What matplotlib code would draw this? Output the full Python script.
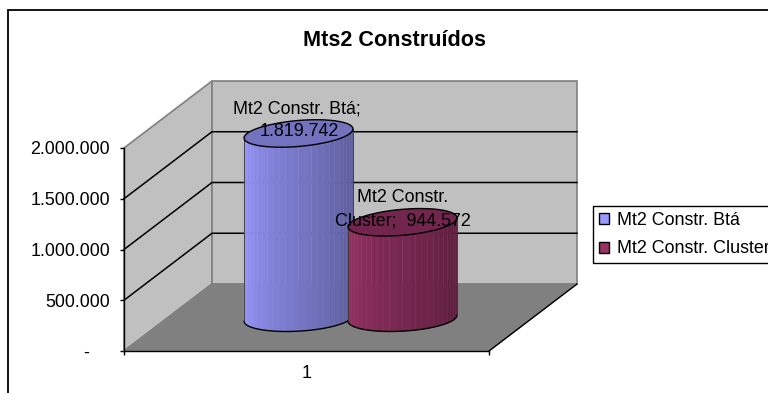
import numpy as np
import matplotlib
matplotlib.use("Agg")
import matplotlib.pyplot as plt
from matplotlib.patches import Polygon, Patch, Rectangle
from matplotlib.ticker import FuncFormatter

plt.rcParams['font.family'] = ['Liberation Sans', 'DejaVu Sans']

title = "Mts2 Construídos"
series_names = ["Mt2 Constr. Btá", "Mt2 Constr. Cluster"]
values = [1819742, 944572]
category = "1"
yticks = [0, 500000, 1000000, 1500000, 2000000]

W, H = 768, 393
FS = 12.9
fig = plt.figure(figsize=(W / 100, H / 100), dpi=100, facecolor="white")
L, R, T, B = 124, 489, 148, 351
ax = fig.add_axes([L / W, 1 - B / H, (R - L) / W, (B - T) / H], facecolor="none")
ax.set_xlim(0, 1)
ax.set_ylim(0, 2000000)
ux = 1 / (R - L)                   # axis units per pixel, x
uy = 2000000 / (B - T)             # axis units per pixel, y
DX, DY = 88 * ux, 67 * uy          # depth offset of the 3-D box
ymax = yticks[-1]

# frame of the chart, running off the right and bottom of the canvas
fig.add_artist(Rectangle((8 / W, -0.1), 1, 1.1 - 10 / H, transform=fig.transFigure,
                         fc="none", ec="black", lw=1.3, zorder=0))

# walls and floor
ax.add_patch(Polygon([(0, 0), (DX, DY), (DX, ymax + DY), (0, ymax)], fc="#C0C0C0",
                     ec="#808080", lw=1.2, clip_on=False, zorder=1))
ax.add_patch(Polygon([(DX, DY), (1 + DX, DY), (1 + DX, ymax + DY), (DX, ymax + DY)],
                     fc="#C0C0C0", ec="#808080", lw=1.2, clip_on=False, zorder=1))
ax.add_patch(Polygon([(0, 0), (1, 0), (1 + DX, DY), (DX, DY)], fc="#808080",
                     ec="#808080", lw=0.8, clip_on=False, zorder=1))
ax.plot([1, 1 + DX], [0, DY], color="black", lw=1, clip_on=False, zorder=2)
ax.plot([0, DX], [0, DY], color="#808080", lw=1, clip_on=False, zorder=2)
for v in yticks[1:-1]:
    ax.plot([0, DX, 1 + DX], [v, v + DY, v + DY], color="black", lw=1.1,
            clip_on=False, zorder=2, solid_joinstyle="miter")


def cylinder(cx, value, base_col, top_col, z):
    """Faceted cylinder standing on the floor, height taken from value."""
    depth = 0.49
    x0 = cx + DX * depth
    y0 = DY * depth
    rx, ry = 54.5 * ux, 13 * uy
    tilt_b, tilt_t = 3 * uy, 4.5 * uy
    n = 26
    t = np.linspace(np.pi, 2 * np.pi, n + 1)     # front half, left to right
    ex = x0 + rx * np.cos(t)
    ey = ry * np.sin(t) + tilt_b * np.cos(t)
    ey_top = ry * np.sin(t) + tilt_t * np.cos(t)
    base_rgb = np.array(matplotlib.colors.to_rgb(base_col))
    for i in range(n):
        f = 1 - 0.42 * (i / (n - 1)) ** 0.9
        ax.add_patch(Polygon([(ex[i], y0 + ey[i]), (ex[i + 1], y0 + ey[i + 1]),
                              (ex[i + 1], y0 + ey_top[i + 1] + value),
                              (ex[i], y0 + ey_top[i] + value)],
                             fc=base_rgb * f, ec=np.minimum(base_rgb * f * 1.06, 1), lw=0.3,
                             clip_on=False, zorder=z))
    ax.plot(ex, y0 + ey, color="black", lw=1.0, clip_on=False, zorder=z + 0.1)
    ax.plot([ex[0], ex[0]], [y0 + ey[0], y0 + ey_top[0] + value], color="#333333", lw=0.6,
            clip_on=False, zorder=z + 0.1)
    ax.plot([ex[-1], ex[-1]], [y0 + ey[-1], y0 + ey_top[-1] + value], color="#333333", lw=0.6,
            clip_on=False, zorder=z + 0.1)
    ta = np.linspace(0, 2 * np.pi, 2 * n + 1)
    ax.add_patch(Polygon(np.c_[x0 + rx * np.cos(ta),
                               y0 + value + ry * np.sin(ta) + tilt_t * np.cos(ta)],
                         fc=top_col, ec="black", lw=1.0, clip_on=False, zorder=z + 0.2))
    return x0, y0 + value


fmt = lambda v: f"{v:,.0f}".replace(",", ".")
x1, top1 = cylinder(0.360, values[0], "#9999FF", "#7272BF", 3)
x2, top2 = cylinder(0.645, values[1], "#993366", "#73264D", 4)

ax.text(x1 - 1.5 * ux, top1 + 24.5 * uy, series_names[0] + ";", ha="center", va="center",
        fontsize=FS, color="black", zorder=6, clip_on=False)
ax.text(x1 + 0.5 * ux, top1 + 1.5 * uy, fmt(values[0]), ha="center", va="center",
        fontsize=FS, color="black", zorder=6, clip_on=False)
ax.text(x2, top2 + 25 * uy, "Mt2 Constr.", ha="center", va="center",
        fontsize=FS, color="black", zorder=6, clip_on=False)
ax.text(x2, top2 + 1.5 * uy, f"Cluster;  {fmt(values[1])}", ha="center", va="center",
        fontsize=FS, color="black", zorder=6, clip_on=False)

# axes
ax.set_yticks(yticks)
ax.yaxis.set_major_formatter(FuncFormatter(lambda v, p: fmt(v) if v else "-\u00a0\u00a0\u00a0\u00a0"))
ax.set_xticks([0, 1])
ax.set_xticklabels([])
ax.set_xticks([0.5], minor=True)
ax.set_xticklabels([category], minor=True, fontsize=FS)
ax.tick_params(axis="y", length=3, width=1, pad=7, labelsize=FS)
ax.tick_params(axis="x", which="major", length=3, width=1)
ax.tick_params(axis="x", which="minor", length=0, pad=10)
for s in ("top", "right"):
    ax.spines[s].set_visible(False)
for s in ("left", "bottom"):
    ax.spines[s].set_linewidth(1)
    ax.spines[s].set_zorder(2.5)

fig.text(394.5 / W, 1 - 40 / H, title, ha="center", va="center", fontsize=15.6,
         fontweight="bold", color="black")

handles = [Patch(fc="#9999FF", ec="black", lw=1), Patch(fc="#993366", ec="black", lw=1)]
fig.legend(handles, series_names, loc="upper left", bbox_to_anchor=(593 / W, 1 - 206 / H),
           bbox_transform=fig.transFigure, fontsize=FS, frameon=True, fancybox=False,
           edgecolor="black", framealpha=1, borderaxespad=0, borderpad=0.32,
           handlelength=0.56, handleheight=0.56, handletextpad=0.45, labelspacing=0.65)

fig.savefig("out.png", dpi=100, facecolor="white")
